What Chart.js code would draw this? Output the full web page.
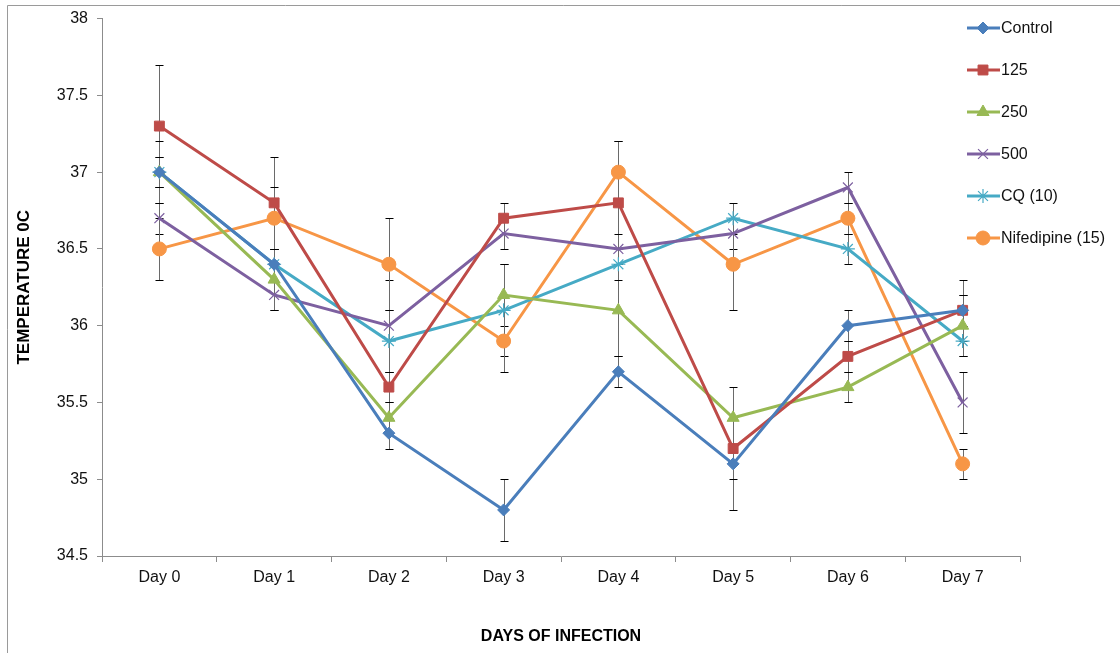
<!DOCTYPE html>
<html>
<head>
<meta charset="utf-8">
<script src="https://cdn.jsdelivr.net/npm/chart.js@4.4.1/dist/chart.umd.min.js"></script>
<style>
  html, body { margin: 0; padding: 0; background: #fff; }
  #wrap { width: 1120px; height: 653px; position: relative; }
</style>
</head>
<body>
<div id="wrap"><canvas id="c" width="1120" height="653"></canvas></div>
<script>
// ---- data ----
const categories = ['Day 0', 'Day 1', 'Day 2', 'Day 3', 'Day 4', 'Day 5', 'Day 6', 'Day 7'];
const seriesNames = ['Control', '125', '250', '500', 'CQ (10)', 'Nifedipine (15)'];

const control    = [37.0, 36.4, 35.3, 34.8, 35.7, 35.1, 36.0, 36.1];
const dose125    = [37.3, 36.8, 35.6, 36.7, 36.8, 35.2, 35.8, 36.1];
const dose250    = [37.0, 36.3, 35.4, 36.2, 36.1, 35.4, 35.6, 36.0];
const dose500    = [36.7, 36.2, 36.0, 36.6, 36.5, 36.6, 36.9, 35.5];
const cq10       = [37.0, 36.4, 35.9, 36.1, 36.4, 36.7, 36.5, 35.9];
const nifedipine = [36.5, 36.7, 36.4, 35.9, 37.0, 36.4, 36.7, 35.1];

const errControl    = [0.1, 0.1, 0.1, 0.2, 0.1, 0.3, 0.1, 0.1];
const err125        = [0.4, 0.3, 0.1, 0.1, 0.4, 0.2, 0.1, 0.2];
const err250        = [0.2, 0.2, 0.1, 0.2, 0.3, 0.2, 0.1, 0.2];
const err500        = [0.1, 0.1, 0.3, 0.1, 0.1, 0.1, 0.1, 0.2];
const errCq10       = [0.1, 0.1, 0.2, 0.3, 0.1, 0.1, 0.1, 0.1];
const errNifedipine = [0.2, 0.2, 0.3, 0.2, 0.2, 0.3, 0.1, 0.1];

const yTickLabels = ['34.5', '35', '35.5', '36', '36.5', '37', '37.5', '38'];
const yTicks = { min: 34.5, max: 38, step: 0.5 };

// ---- styles ----
const colors = ['#4a7ebb', '#be4b48', '#98b954', '#7d60a0', '#46aac5', '#f79646'];
const pointStyles = ['rectRot', 'rect', 'triangle', 'crossRot', 'star', 'circle'];
const pointRadii = [6, 7, 7, 7, 7, 7];
const pointBorders = [1, 1, 1, 1.2, 1.2, 1];
const values = [control, dose125, dose250, dose500, cq10, nifedipine];
const errors = [errControl, err125, err250, err500, errCq10, errNifedipine];

const datasets = seriesNames.map((name, i) => ({
  label: name,
  data: values[i],
  errors: errors[i],
  borderColor: colors[i],
  backgroundColor: colors[i],
  pointBackgroundColor: colors[i],
  pointBorderColor: colors[i],
  pointStyle: pointStyles[i],
  pointRadius: pointRadii[i],
  pointBorderWidth: pointBorders[i],
  borderWidth: 3,
  tension: 0,
  fill: false
}));

const errorBarPlugin = {
  id: 'errorBars',
  beforeDatasetsDraw(chart) {
    const ctx = chart.ctx;
    const xs = chart.scales.x, ys = chart.scales.y;
    ctx.save();
    chart.data.datasets.forEach((ds, i) => {
      ds.data.forEach((v, j) => {
        const e = ds.errors[j];
        const x = Math.round(xs.getPixelForValue(j)) + 0.5;
        const yt = Math.round(ys.getPixelForValue(v + e)) + 0.5;
        const yb = Math.round(ys.getPixelForValue(v - e)) + 0.5;
        ctx.strokeStyle = '#6a6a6a';
        ctx.lineWidth = 1;
        ctx.beginPath();
        ctx.moveTo(x, yt); ctx.lineTo(x, yb);
        ctx.stroke();
        ctx.strokeStyle = '#000';
        ctx.beginPath();
        ctx.moveTo(x - 4, yt); ctx.lineTo(x + 4, yt);
        ctx.moveTo(x - 4, yb); ctx.lineTo(x + 4, yb);
        ctx.stroke();
      });
    });
    ctx.restore();
  }
};

const legendPlugin = {
  id: 'sideLegend',
  afterDraw(chart) {
    const ctx = chart.ctx;
    ctx.save();
    chart.data.datasets.forEach((ds, i) => {
      const y = 28 + i * 42;
      ctx.strokeStyle = ds.borderColor;
      ctx.fillStyle = ds.backgroundColor;
      ctx.lineWidth = 3;
      ctx.beginPath();
      ctx.moveTo(967, y); ctx.lineTo(1000, y);
      ctx.stroke();
      ctx.lineWidth = ds.pointBorderWidth;
      Chart.helpers.drawPoint(ctx, {
        pointStyle: ds.pointStyle, radius: ds.pointRadius, rotation: 0, borderWidth: ds.pointBorderWidth
      }, 983, y);
      ctx.fillStyle = '#111';
      ctx.font = '16px "Liberation Sans", Arial, sans-serif';
      ctx.textBaseline = 'middle';
      ctx.textAlign = 'left';
      ctx.fillText(ds.label, 1001, y + 1);
    });
    ctx.restore();
  }
};

const framePlugin = {
  id: 'frame',
  afterDraw(chart) {
    const ctx = chart.ctx;
    ctx.save();
    ctx.strokeStyle = '#9a9a9a';
    ctx.lineWidth = 1;
    ctx.beginPath();
    ctx.moveTo(7.5, 653); ctx.lineTo(7.5, 5.5); ctx.lineTo(1120, 5.5);
    ctx.stroke();
    ctx.restore();
  }
};

new Chart(document.getElementById('c'), {
  type: 'line',
  data: { labels: categories, datasets },
  plugins: [errorBarPlugin, legendPlugin, framePlugin],
  options: {
    responsive: false,
    animation: false,
    devicePixelRatio: 1,
    layout: { padding: { top: 18, right: 100, left: 0, bottom: 0 } },
    plugins: { legend: { display: false }, tooltip: { enabled: false }, title: { display: false } },
    scales: {
      x: {
        offset: true,
        grid: { offset: true, drawOnChartArea: false, drawTicks: true, tickLength: 6, color: '#8c8c8c' },
        border: { color: '#8c8c8c' },
        ticks: { color: '#111', font: { size: 16, family: '"Liberation Sans", Arial, sans-serif' }, padding: 6, maxRotation: 0 },
        title: {
          display: true, text: 'DAYS OF INFECTION', color: '#000',
          font: { size: 16, weight: 'bold', family: '"Liberation Sans", Arial, sans-serif' },
          padding: { top: 0, bottom: 7 }
        },
        afterFit(scale) { scale.height = 97; }
      },
      y: {
        min: yTicks.min, max: yTicks.max,
        grid: { drawOnChartArea: false, drawTicks: true, tickLength: 5, color: '#8c8c8c' },
        border: { color: '#8c8c8c' },
        ticks: {
          stepSize: yTicks.step, color: '#111',
          font: { size: 16, family: '"Liberation Sans", Arial, sans-serif' }, padding: 9,
          callback: (v, idx) => yTickLabels[idx] !== undefined ? yTickLabels[idx] : String(v)
        },
        title: {
          display: true, text: 'TEMPERATURE 0C', color: '#000',
          font: { size: 17, weight: 'bold', family: '"Liberation Sans", Arial, sans-serif' },
          padding: { top: 14, bottom: 0 }
        },
        afterFit(scale) { scale.width = 102; }
      }
    }
  }
});
</script>
</body>
</html>
